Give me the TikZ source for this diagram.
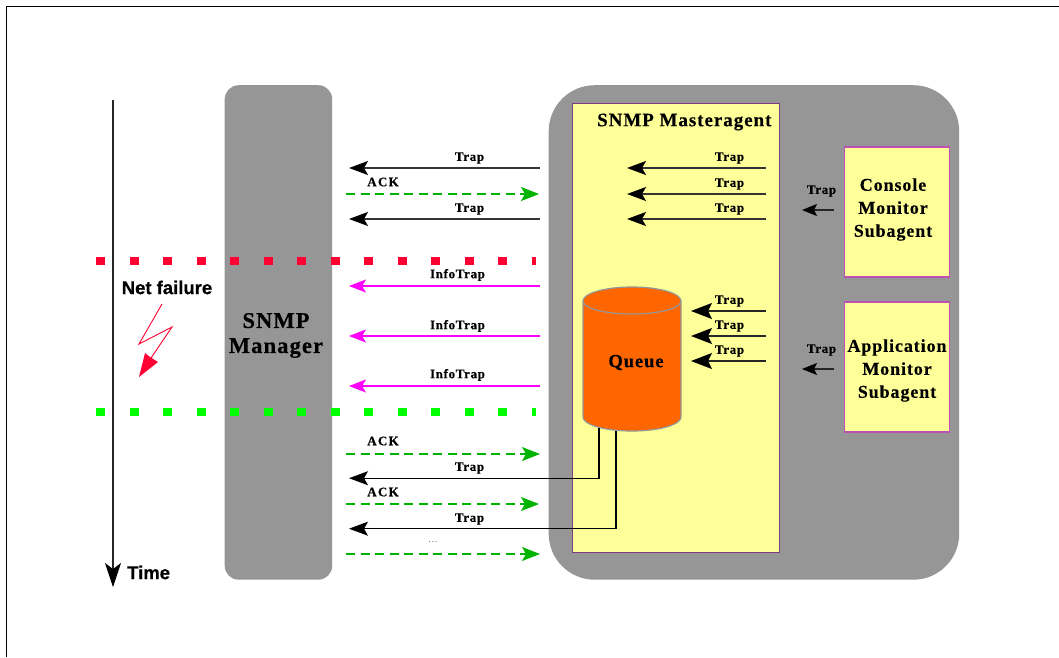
\documentclass[tikz,border=0pt]{standalone}
\usepackage{fontspec}
\setmainfont{Liberation Serif}
\newfontfamily\sansf[BoldFeatures={FakeBold=0.6}]{Liberation Sans}
\newfontfamily\lsA[LetterSpace=5,BoldFeatures={FakeBold=0.4}]{Liberation Serif}
\newfontfamily\lsW[LetterSpace=10,BoldFeatures={FakeBold=0.4}]{Liberation Serif}
\newfontfamily\lsB[LetterSpace=5,BoldFeatures={FakeBold=0.3}]{Liberation Serif}
\usetikzlibrary{arrows.meta,calc}
\definecolor{panel}{RGB}{150,150,150}
\definecolor{pale}{RGB}{255,255,153}
\definecolor{purp}{RGB}{128,60,128}
\definecolor{pinkb}{RGB}{190,80,180}
\definecolor{qorange}{RGB}{255,102,0}
\definecolor{ackg}{RGB}{0,180,0}
\definecolor{mag}{RGB}{255,0,255}
\definecolor{redd}{RGB}{255,0,51}
\definecolor{gree}{RGB}{0,255,0}
\tikzset{
 x=1pt,y=-1pt,
 trapar/.style={draw=black!80,line width=1.3pt,-{Stealth[length=19pt,width=14pt,inset=4pt,color=black]}},
 trapbig/.style={draw=black!85,line width=1.3pt,-{Stealth[length=21pt,width=16pt,inset=4pt,color=black]}},
 trapsmall/.style={draw=black!85,line width=1.2pt,-{Stealth[length=15pt,width=12pt,inset=3pt,color=black]}},
 infoar/.style={draw=mag,line width=1.3pt,-{Stealth[length=17pt,width=13pt,inset=4pt]}},
 ackar/.style={draw=ackg,line width=1.8pt,dash pattern=on 9pt off 5.5pt,-{Stealth[length=18pt,width=14pt,inset=4pt,color=ackg]}},
 ackthin/.style={ackar,line width=1.2pt},
 lab/.style={font=\lsA\bfseries\fontsize{13}{14}\selectfont,inner sep=0pt,text=black},
 labw/.style={font=\lsW\bfseries\fontsize{13}{14}\selectfont,inner sep=0pt,text=black},
 title/.style={font=\lsB\bfseries\fontsize{19}{20}\selectfont,inner sep=0pt,align=center,text=black},
 sub/.style={draw=pinkb,line width=1.2pt,fill=pale,minimum width=105pt,minimum height=130pt,inner sep=0pt,anchor=north west},
 subt/.style={font=\lsB\bfseries\fontsize{18}{23}\selectfont,inner sep=0pt,align=center,text=black},
 netline/.style={line width=8pt,dash pattern=on 9pt off 24.5pt},
 sanst/.style={font=\sansf\bfseries\fontsize{18.5}{20}\selectfont,inner sep=0pt},
}
\begin{document}
\begin{tikzpicture}
\useasboundingbox (0,0) rectangle (1059,657);
\fill[white] (0,0) rectangle (1059,657);
\coordinate (fa) at (6.5,657); \coordinate (fb) at (6.5,6.5); \coordinate (fc) at (1059,6.5);
\draw[black,line width=1pt] (fa) -- (fb) -- (fc);
% manager
\node[fill=panel,rounded corners=14pt,minimum width=107.5pt,minimum height=494.5pt,inner sep=0pt,anchor=north west] (mgr) at (224.5,85) {};
\node[font=\lsB\bfseries\fontsize{22.5}{25}\selectfont,inner sep=0pt,align=center] (mgrt) at (276,335.5) {SNMP\\Manager};
% agent
\node[fill=panel,rounded corners=46pt,minimum width=410.5pt,minimum height=494.5pt,inner sep=0pt,anchor=north west] (agent) at (548.5,85) {};
\node[draw=purp,line width=1.3pt,fill=pale,minimum width=206.5pt,minimum height=449pt,inner sep=0pt,anchor=north west] (master) at (572,103) {};
\node[title,anchor=west] (mastert) at (597,122) {SNMP Masteragent};
% subagents
\node[sub] (con) at (843.7,146.3) {};
\node[subt] at (893,209.5) (cont) {Console\\Monitor\\Subagent};
\node[sub] (app) at (843.7,301.3) {};
\node[subt] at (897,370.5) (appt) {Application\\Monitor\\Subagent};
% time axis
\coordinate (t0) at (113,100); \coordinate (t1) at (113,587);
\draw[black!85,line width=1.2pt,-{Stealth[length=24pt,width=16pt,inset=6pt,color=black]}] (t0) -- (t1);
\node[sanst,anchor=west] (time) at (127,572.5) {Time};
% dotted lines
\coordinate (ra) at (96,260.5); \coordinate (rb) at (536,260.5);
\coordinate (ga) at (96,411.5); \coordinate (gb) at (536,411.5);
\draw[redd,netline] (ra) -- (rb);
\draw[gree,netline] (ga) -- (gb);
\node[sanst] (nf) at (167,287.5) {Net failure};
% lightning
\coordinate (l1) at (162,304); \coordinate (l2) at (139,344); \coordinate (l3) at (172,327); \coordinate (l4) at (151,358);
\coordinate (l5) at (139,377);
\draw[redd,line width=.9pt,line join=miter] (l1) -- (l2) -- (l3) -- (l4);
\fill[redd] (l5) -- (145,353) -- (150,357) -- (158,362) -- cycle;
% left arrows
\coordinate (a1s) at (540,168); \coordinate (a1e) at (349,168);
\coordinate (a2s) at (346,194); \coordinate (a2e) at (539,194);
\coordinate (a3s) at (540,219); \coordinate (a3e) at (349,219);
\draw[trapar] (a1s) -- (a1e);
\draw[ackar] (a2s) -- (a2e);
\draw[trapar] (a3s) -- (a3e);
\node[lab] (l1t) at (469.5,158) {Trap};
\node[labw] (l2t) at (383,182) {ACK};
\node[lab] (l3t) at (469.5,209) {Trap};
% infotrap
\coordinate (i1s) at (540,286); \coordinate (i1e) at (349,286);
\coordinate (i2s) at (540,336); \coordinate (i2e) at (349,336);
\coordinate (i3s) at (540,386); \coordinate (i3e) at (349,386);
\draw[infoar] (i1s) -- (i1e);
\draw[infoar] (i2s) -- (i2e);
\draw[infoar] (i3s) -- (i3e);
\node[lab] (i1t) at (457.5,275) {InfoTrap};
\node[lab] (i2t) at (457.5,326) {InfoTrap};
\node[lab] (i3t) at (457.5,375) {InfoTrap};
% queue
\coordinate (qa) at (599,428); \coordinate (qb) at (616,428);
\coordinate (qc) at (599,478.2); \coordinate (qd) at (616,528.7);
\coordinate (qe) at (349,478.2); \coordinate (qf) at (349,528.7);
\draw[black,line width=1.2pt,-{Stealth[length=19pt,width=14pt,inset=4pt]}] (qa) -- (qc) -- (qe);
\draw[black,line width=1.2pt,-{Stealth[length=19pt,width=14pt,inset=4pt]}] (qb) -- (qd) -- (qf);
\draw[panel,line width=1.2pt,fill=qorange] (583,301) -- (583,417) arc[start angle=180,end angle=360,x radius=49pt,y radius=14pt] -- (681,301) arc[start angle=0,end angle=-180,x radius=49pt,y radius=-14pt] -- cycle;
\draw[panel,line width=1.2pt] (583,301) arc[start angle=180,end angle=360,x radius=49pt,y radius=13pt];
\node[title,font=\lsB\bfseries\fontsize{18.5}{20}\selectfont] (qt) at (636,362.5) {Queue};
% ack lower
\coordinate (b1s) at (346,454); \coordinate (b1e) at (540,454);
\coordinate (b2s) at (346,504); \coordinate (b2e) at (539,504);
\coordinate (b3s) at (346,554); \coordinate (b3e) at (540,554);
\draw[ackthin] (b1s) -- (b1e);
\draw[ackthin] (b2s) -- (b2e);
\draw[ackthin] (b3s) -- (b3e);
\node[labw] (b1t) at (383,441) {ACK};
\node[labw] (b2t) at (383,492) {ACK};
\node[lab] (q1t) at (469.5,468) {Trap};
\node[lab] (q2t) at (469.5,519) {Trap};
\node[inner sep=0pt,text=black!70,font=\fontsize{9}{10}\selectfont] (dots) at (433,542) {.\kern1pt.\kern1pt.};
% master traps
\foreach \n/\y in {m1/168,m2/194,m3/219}{
 \coordinate (\n s) at (766,\y); \coordinate (\n e) at (627,\y);
 \draw[trapar] (\n s) -- (\n e);
}
\node[lab] (m1t) at (729.5,158) {Trap};
\node[lab] (m2t) at (729.5,184) {Trap};
\node[lab] (m3t) at (729.5,209) {Trap};
\foreach \n/\y in {n1/311,n2/336,n3/361}{
 \coordinate (\n s) at (766,\y); \coordinate (\n e) at (691,\y);
 \draw[trapbig] (\n s) -- (\n e);
}
\node[lab] (n1t) at (729.5,301) {Trap};
\node[lab] (n2t) at (729.5,326) {Trap};
\node[lab] (n3t) at (729.5,351) {Trap};
% subagent traps
\coordinate (c1s) at (834,210); \coordinate (c1e) at (802,210);
\coordinate (c2s) at (834,369); \coordinate (c2e) at (802,369);
\draw[trapsmall] (c1s) -- (c1e);
\draw[trapsmall] (c2s) -- (c2e);
\node[lab] (c1t) at (821.5,191) {Trap};
\node[lab] (c2t) at (821.5,350) {Trap};
\end{tikzpicture}
\end{document}
